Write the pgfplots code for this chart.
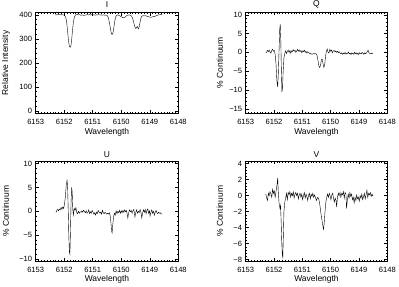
\documentclass[border=0pt]{standalone}
\usepackage{fontspec}
\setmainfont{Liberation Sans}
\usepackage{pgfplots}
\pgfplotsset{compat=1.18}

\pgfplotsset{
  panel/.style={
    scale only axis, anchor=south west,
    x dir=reverse, xmin=6148, xmax=6153,
    xtick={6148,6149,6150,6151,6152,6153},
    minor x tick num=9, minor y tick num=4,
    tick align=inside, xtick pos=both, ytick pos=both,
    major tick length=3bp, minor tick length=1.5bp,
    tick style={line width=0.5bp, black},
    axis line style={line width=0.6bp, black},
    /pgf/number format/assume math mode=true,
    /pgf/number format/1000 sep={},
    xticklabel style={font=\fontsize{7.6}{9}\selectfont, anchor=center, inner sep=0pt, yshift=-9bp},
    yticklabel style={font=\fontsize{7.6}{9}\selectfont, anchor=east, inner sep=0pt, xshift=-3.4bp},
    every axis title/.style={at={(0.5,1)}, anchor=center, inner sep=0pt, font=\fontsize{8.5}{10}\selectfont},
    label style={font=\fontsize{8.5}{10}\selectfont},
    xlabel={Wavelength},
    cycle list={{black, line width=0.6bp, no markers, sharp plot}},
  },
  leftp/.style={width=142.6bp, ylabel style={at={(axis description cs:-0.209,0.5)}, anchor=center}},
  rightp/.style={width=141.6bp, ylabel style={at={(axis description cs:-0.183,0.5)}, anchor=center}},
  topp/.style={height=100.8bp, title style={at={(axis description cs:0.5,1.082)}},
    xlabel style={at={(axis description cs:0.5,-0.192)}, anchor=center}},
  botp/.style={height=100bp, title style={at={(axis description cs:0.5,1.063)}},
    xlabel style={at={(axis description cs:0.5,-0.184)}, anchor=center}},
}

\begin{document}
\begin{tikzpicture}
\useasboundingbox (0,0) rectangle (399bp,287bp);

% ---------------- I ----------------
\begin{axis}[panel, leftp, topp, at={(35.7bp,173.7bp)},
  title={I}, ylabel={Relative Intensity},
  ymin=-10, ymax=410, ytick={0,100,200,300,400}]
\addplot coordinates {
(6152.32,400) (6152.28,401) (6152.24,400) (6152.20,402) (6152.16,401)
(6152.12,400) (6152.08,401) (6152.04,400) (6152.00,399) (6151.97,395)
(6151.94,386) (6151.91,366) (6151.88,330) (6151.85,292) (6151.82,270)
(6151.79,265) (6151.77,268) (6151.74,295) (6151.71,335) (6151.68,368)
(6151.65,388) (6151.62,397) (6151.59,401) (6151.55,402) (6151.51,400)
(6151.47,401) (6151.43,399) (6151.39,399) (6151.35,400) (6151.31,398)
(6151.27,399) (6151.23,400) (6151.19,401) (6151.15,400) (6151.11,401)
(6151.07,400) (6151.03,401) (6150.99,400) (6150.95,400) (6150.91,399)
(6150.87,400) (6150.83,400) (6150.79,401) (6150.75,400) (6150.71,400)
(6150.67,399) (6150.63,400) (6150.59,399) (6150.54,399) (6150.50,398)
(6150.47,393) (6150.44,382) (6150.41,365) (6150.38,343) (6150.35,325)
(6150.32,318) (6150.29,326) (6150.26,347) (6150.23,372) (6150.20,390)
(6150.17,397) (6150.13,400) (6150.09,399) (6150.05,396) (6150.01,393)
(6149.97,390) (6149.93,388) (6149.89,389) (6149.85,393) (6149.81,397)
(6149.77,399) (6149.73,400) (6149.69,399) (6149.65,396) (6149.61,389)
(6149.58,377) (6149.55,362) (6149.52,349) (6149.49,343) (6149.46,348)
(6149.44,352) (6149.42,347) (6149.40,342) (6149.37,350) (6149.34,370)
(6149.31,387) (6149.28,394) (6149.24,397) (6149.20,396) (6149.16,397)
(6149.12,395) (6149.08,394) (6149.04,392) (6149.00,391) (6148.96,390)
(6148.92,391) (6148.88,393) (6148.84,393) (6148.80,395) (6148.76,397)
(6148.72,399) (6148.68,400) (6148.64,401) (6148.60,401) (6148.57,402)
};
\end{axis}

% ---------------- Q ----------------
\begin{axis}[panel, rightp, topp, at={(245.7bp,173.7bp)},
  title={Q}, ylabel={\% Continuum},
  ymin=-16.2, ymax=10.6, ytick={-15,-10,-5,0,5,10},
  yticklabels={−15,−10,−5,0,5,10}]
\addplot coordinates {
(6152.29,-0.2) (6152.26,0.1) (6152.23,0.5) (6152.20,0.2) (6152.17,0.6)
(6152.14,0.1) (6152.11,-0.2) (6152.08,0.5) (6152.05,0.8) (6152.02,0.3)
(6151.99,0.5) (6151.96,-0.5) (6151.93,-3.0) (6151.90,-7.5) (6151.87,-9.2)
(6151.85,-6.0) (6151.82,1.0) (6151.80,6.0) (6151.78,7.5) (6151.76,3.0)
(6151.74,-5.0) (6151.72,-10.5) (6151.70,-9.5) (6151.68,-5.5) (6151.65,-1.5)
(6151.62,-0.3) (6151.59,0.4) (6151.56,-0.3) (6151.53,0.3) (6151.50,0.6)
(6151.47,0.0) (6151.44,0.5) (6151.41,-0.2) (6151.38,0.4) (6151.35,0.2)
(6151.32,0.7) (6151.29,0.3) (6151.26,0.6) (6151.23,0.0) (6151.20,0.4)
(6151.17,0.8) (6151.14,0.3) (6151.11,0.6) (6151.08,0.2) (6151.05,0.5)
(6151.02,-0.1) (6150.99,0.4) (6150.96,0.2) (6150.93,0.6) (6150.90,0.0)
(6150.87,0.3) (6150.84,-0.2) (6150.81,0.2) (6150.78,0.0) (6150.75,-0.3)
(6150.72,-0.2) (6150.69,-0.5) (6150.66,-0.4) (6150.63,-0.5) (6150.60,-0.3)
(6150.56,-0.4) (6150.52,-0.3) (6150.48,-0.8) (6150.45,-2.0) (6150.42,-3.5)
(6150.39,-4.0) (6150.36,-3.6) (6150.33,-2.0) (6150.30,-1.8) (6150.27,-3.0)
(6150.24,-4.0) (6150.21,-3.2) (6150.18,-1.0) (6150.15,0.3) (6150.12,0.9)
(6150.09,0.0) (6150.06,-0.2) (6150.03,0.8) (6150.00,0.3) (6149.97,0.6)
(6149.94,-0.1) (6149.91,0.4) (6149.88,0.5) (6149.85,0.1) (6149.82,0.4)
(6149.79,0.0) (6149.76,0.3) (6149.73,-0.1) (6149.70,0.2) (6149.67,-0.2)
(6149.64,-0.4) (6149.61,-0.1) (6149.58,-0.5) (6149.55,-0.2) (6149.52,-0.4)
(6149.49,0.0) (6149.46,-0.5) (6149.43,-0.2) (6149.40,-0.3) (6149.37,0.1)
(6149.34,-0.4) (6149.31,-0.2) (6149.28,-0.6) (6149.25,-0.1) (6149.22,-0.3)
(6149.19,-0.5) (6149.16,0.0) (6149.13,-0.4) (6149.10,-0.1) (6149.07,-0.5)
(6149.04,-0.2) (6149.01,-0.6) (6148.98,-0.1) (6148.95,-0.3) (6148.92,-0.4)
(6148.89,0.0) (6148.86,-0.3) (6148.83,-0.5) (6148.80,-0.1) (6148.77,-0.4)
(6148.74,-0.2) (6148.71,0.1) (6148.68,0.6) (6148.65,-0.1) (6148.62,-0.3)
(6148.59,-0.2) (6148.56,-0.4) (6148.53,-0.2) (6148.50,-0.3)
};
\end{axis}

% ---------------- U ----------------
\begin{axis}[panel, leftp, botp, at={(35.7bp,25.7bp)},
  title={U}, ylabel={\% Continuum},
  ymin=-10.5, ymax=10.5, ytick={-10,-5,0,5,10},
  yticklabels={−10,−5,0,5,10}]
\addplot coordinates {
(6152.29,-0.3) (6152.26,0.2) (6152.23,0.4) (6152.20,0.1) (6152.17,0.5)
(6152.14,0.3) (6152.11,0.8) (6152.08,0.4) (6152.05,0.9) (6152.02,0.6)
(6151.99,1.5) (6151.96,3.0) (6151.93,5.5) (6151.90,6.5) (6151.88,5.0)
(6151.86,0.5) (6151.84,-5.0) (6151.82,-8.5) (6151.80,-9.0) (6151.78,-4.0)
(6151.76,2.0) (6151.74,5.0) (6151.72,4.0) (6151.70,0.5) (6151.68,-0.8)
(6151.65,0.6) (6151.62,0.2) (6151.59,0.8) (6151.56,-0.3) (6151.53,-0.5)
(6151.50,0.0) (6151.47,-0.4) (6151.44,-0.1) (6151.41,-0.2) (6151.38,0.1)
(6151.35,-0.2) (6151.32,0.2) (6151.29,0.0) (6151.26,-0.3) (6151.23,0.1)
(6151.20,-0.4) (6151.17,-0.2) (6151.14,0.3) (6151.11,-0.5) (6151.08,-0.1)
(6151.05,-0.4) (6151.02,0.2) (6150.99,-0.2) (6150.96,-0.6) (6150.93,-0.3)
(6150.90,-0.8) (6150.87,-0.2) (6150.84,-0.5) (6150.81,0.2) (6150.78,-0.1)
(6150.75,-0.4) (6150.72,-0.2) (6150.69,-0.6) (6150.66,0.2) (6150.63,-0.3)
(6150.60,-0.5) (6150.57,-0.2) (6150.54,-0.4) (6150.51,-0.6) (6150.48,-0.4)
(6150.45,-0.6) (6150.42,-0.3) (6150.39,-0.8) (6150.36,-2.5) (6150.34,-4.2)
(6150.32,-4.5) (6150.30,-3.0) (6150.27,-1.2) (6150.24,-0.4) (6150.21,-0.8)
(6150.18,0.1) (6150.15,-0.5) (6150.12,0.0) (6150.09,-0.3) (6150.06,0.2)
(6150.03,-0.4) (6150.00,0.1) (6149.97,-0.3) (6149.94,0.2) (6149.91,-0.2)
(6149.88,0.3) (6149.85,-0.1) (6149.82,0.2) (6149.79,-0.6) (6149.77,-1.4)
(6149.74,-0.3) (6149.71,0.3) (6149.68,-0.1) (6149.65,0.2) (6149.62,-0.4)
(6149.59,0.1) (6149.56,0.4) (6149.54,-0.3) (6149.52,-1.2) (6149.49,-0.2)
(6149.46,0.3) (6149.43,-0.4) (6149.40,0.0) (6149.37,-0.3) (6149.34,0.4)
(6149.31,-0.2) (6149.28,-1.4) (6149.25,-0.3) (6149.22,0.3) (6149.19,-0.2)
(6149.16,0.4) (6149.13,-0.5) (6149.10,0.2) (6149.07,0.5) (6149.04,-0.4)
(6149.01,0.1) (6148.99,-1.0) (6148.96,-0.2) (6148.93,0.3) (6148.90,-0.4)
(6148.87,0.0) (6148.84,-0.8) (6148.81,-0.2) (6148.78,0.2) (6148.75,-0.3)
(6148.72,-0.5) (6148.69,-0.2) (6148.66,-0.4) (6148.63,-0.3) (6148.60,-0.6)
(6148.57,-0.5)
};
\end{axis}

% ---------------- V ----------------
\begin{axis}[panel, rightp, botp, at={(245.7bp,25.7bp)},
  title={V}, ylabel={\% Continuum},
  ymin=-8.2, ymax=4.3, ytick={-8,-6,-4,-2,0,2,4},
  yticklabels={−8,−6,−4,−2,0,2,4}]
\addplot coordinates {
(6152.29,0.2) (6152.26,-0.3) (6152.23,-0.6) (6152.20,0.3) (6152.17,0.0)
(6152.14,0.5) (6152.11,0.2) (6152.08,-0.2) (6152.05,0.8) (6152.02,0.3)
(6151.99,0.6) (6151.96,-0.2) (6151.93,0.5) (6151.90,1.2) (6151.87,2.2)
(6151.85,0.5) (6151.82,-1.0) (6151.79,-1.6) (6151.77,-1.2) (6151.75,-3.0)
(6151.73,-5.5) (6151.71,-7.3) (6151.69,-7.7) (6151.67,-5.0) (6151.65,-2.0)
(6151.62,-0.8) (6151.59,-0.3) (6151.56,0.3) (6151.53,-0.5) (6151.50,0.4)
(6151.47,0.1) (6151.44,0.5) (6151.41,-0.2) (6151.38,0.3) (6151.35,0.0)
(6151.32,0.5) (6151.29,-0.3) (6151.26,0.2) (6151.23,0.4) (6151.20,0.0)
(6151.17,0.3) (6151.14,-0.4) (6151.11,0.1) (6151.08,0.3) (6151.05,-0.2)
(6151.02,0.2) (6150.99,-0.5) (6150.96,0.0) (6150.93,0.4) (6150.90,-0.3)
(6150.87,0.2) (6150.84,-0.1) (6150.81,-0.6) (6150.78,0.1) (6150.75,0.3)
(6150.72,-0.4) (6150.69,0.2) (6150.66,-0.1) (6150.63,0.3) (6150.60,-0.2)
(6150.57,0.1) (6150.53,-0.3) (6150.50,-0.6) (6150.46,-0.2) (6150.42,-0.4)
(6150.38,-1.2) (6150.34,-2.3) (6150.30,-3.2) (6150.27,-3.9) (6150.25,-4.2)
(6150.23,-3.5) (6150.20,-2.0) (6150.17,-0.8) (6150.14,-0.2) (6150.11,0.2)
(6150.08,-0.2) (6150.05,0.3) (6150.02,0.0) (6149.99,-0.5) (6149.96,0.1)
(6149.93,0.3) (6149.90,-0.3) (6149.87,-0.8) (6149.84,-0.3) (6149.81,-0.6)
(6149.79,-1.4) (6149.76,-0.2) (6149.73,0.3) (6149.70,0.0) (6149.67,0.4)
(6149.64,-0.2) (6149.61,0.3) (6149.58,0.1) (6149.55,0.5) (6149.52,-0.3)
(6149.49,0.4) (6149.46,0.2) (6149.44,-1.6) (6149.41,-0.5) (6149.38,0.2)
(6149.35,-0.3) (6149.32,0.4) (6149.29,-0.1) (6149.26,0.2) (6149.23,-0.5)
(6149.20,-0.2) (6149.17,-0.9) (6149.14,-0.2) (6149.11,-0.6) (6149.08,0.1)
(6149.05,-0.4) (6149.02,-0.2) (6148.99,-0.7) (6148.96,0.0) (6148.93,-0.3)
(6148.90,0.2) (6148.87,-0.5) (6148.84,-0.1) (6148.81,0.3) (6148.78,-0.4)
(6148.75,0.1) (6148.72,0.7) (6148.69,-0.2) (6148.66,0.3) (6148.63,0.1)
(6148.60,0.4) (6148.57,-0.1) (6148.54,0.2) (6148.52,0.0) (6148.50,0.1)
};
\end{axis}
\end{tikzpicture}
\end{document}
